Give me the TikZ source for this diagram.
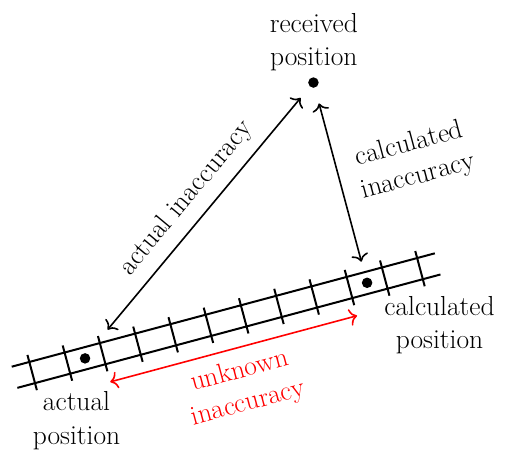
\documentclass[tikz,border=0pt]{standalone}
\usetikzlibrary{arrows.meta}
\begin{document}
\begin{tikzpicture}[x=1pt,y=1pt,
  lbl/.style={font=\fontsize{27.5}{33.5}\selectfont, align=center, inner sep=0pt},
  road/.style={line width=2pt},
  dot/.style={circle, fill=black, inner sep=0pt, minimum size=10.5pt},
  arr/.style={line width=1.6pt, {To[length=7.5pt,width=17pt]}-{To[length=7.5pt,width=17pt]}},
]
\useasboundingbox (0,0) rectangle (506,452);
\begin{scope}[shift={(11.7,85.3)}, rotate=15, x=36.5pt, y=36.5pt]
  \draw[road] (0,0) -- (12,0);
  \draw[road] (0,-0.6) -- (12,-0.6);
  \foreach \i in {0,...,11} \draw[road] (\i+0.5,0.2) -- (\i+0.5,-0.8);
  \node[dot] (act) at (2,-0.3) {};
  \node[dot] (calc) at (10,-0.3) {};
  \node[dot] (rec) at (10,5.38) {};
  \coordinate (a1) at (2.8,0.3);
  \coordinate (c1) at (10,0.3);
  \coordinate (u1) at (2.5,-1.1);
  \coordinate (u2) at (9.5,-1.1);
  \draw[arr, shorten >=14.5pt] (a1) -- (rec);
  \draw[arr, shorten >=16.2pt] (c1) -- (rec);
  \draw[arr, red] (u1) -- (u2);
  \node[lbl, rotate=50.2] (ai) at (5.82,3.22) {actual inaccuracy};
  \node[lbl, rotate=15] (ci) at (12.1,2.6) {calculated\\inaccuracy};
  \node[lbl, rotate=15, text=red] (ui) at (6,-2.2) {unknown\\inaccuracy};
\end{scope}
\node[lbl] (rp) at (313.8,410.1) {received\\position};
\node[lbl] (ap) at (76.5,31.2) {actual\\position};
\node[lbl] (cp) at (439.5,127) {calculated\\position};
\end{tikzpicture}
\end{document}
